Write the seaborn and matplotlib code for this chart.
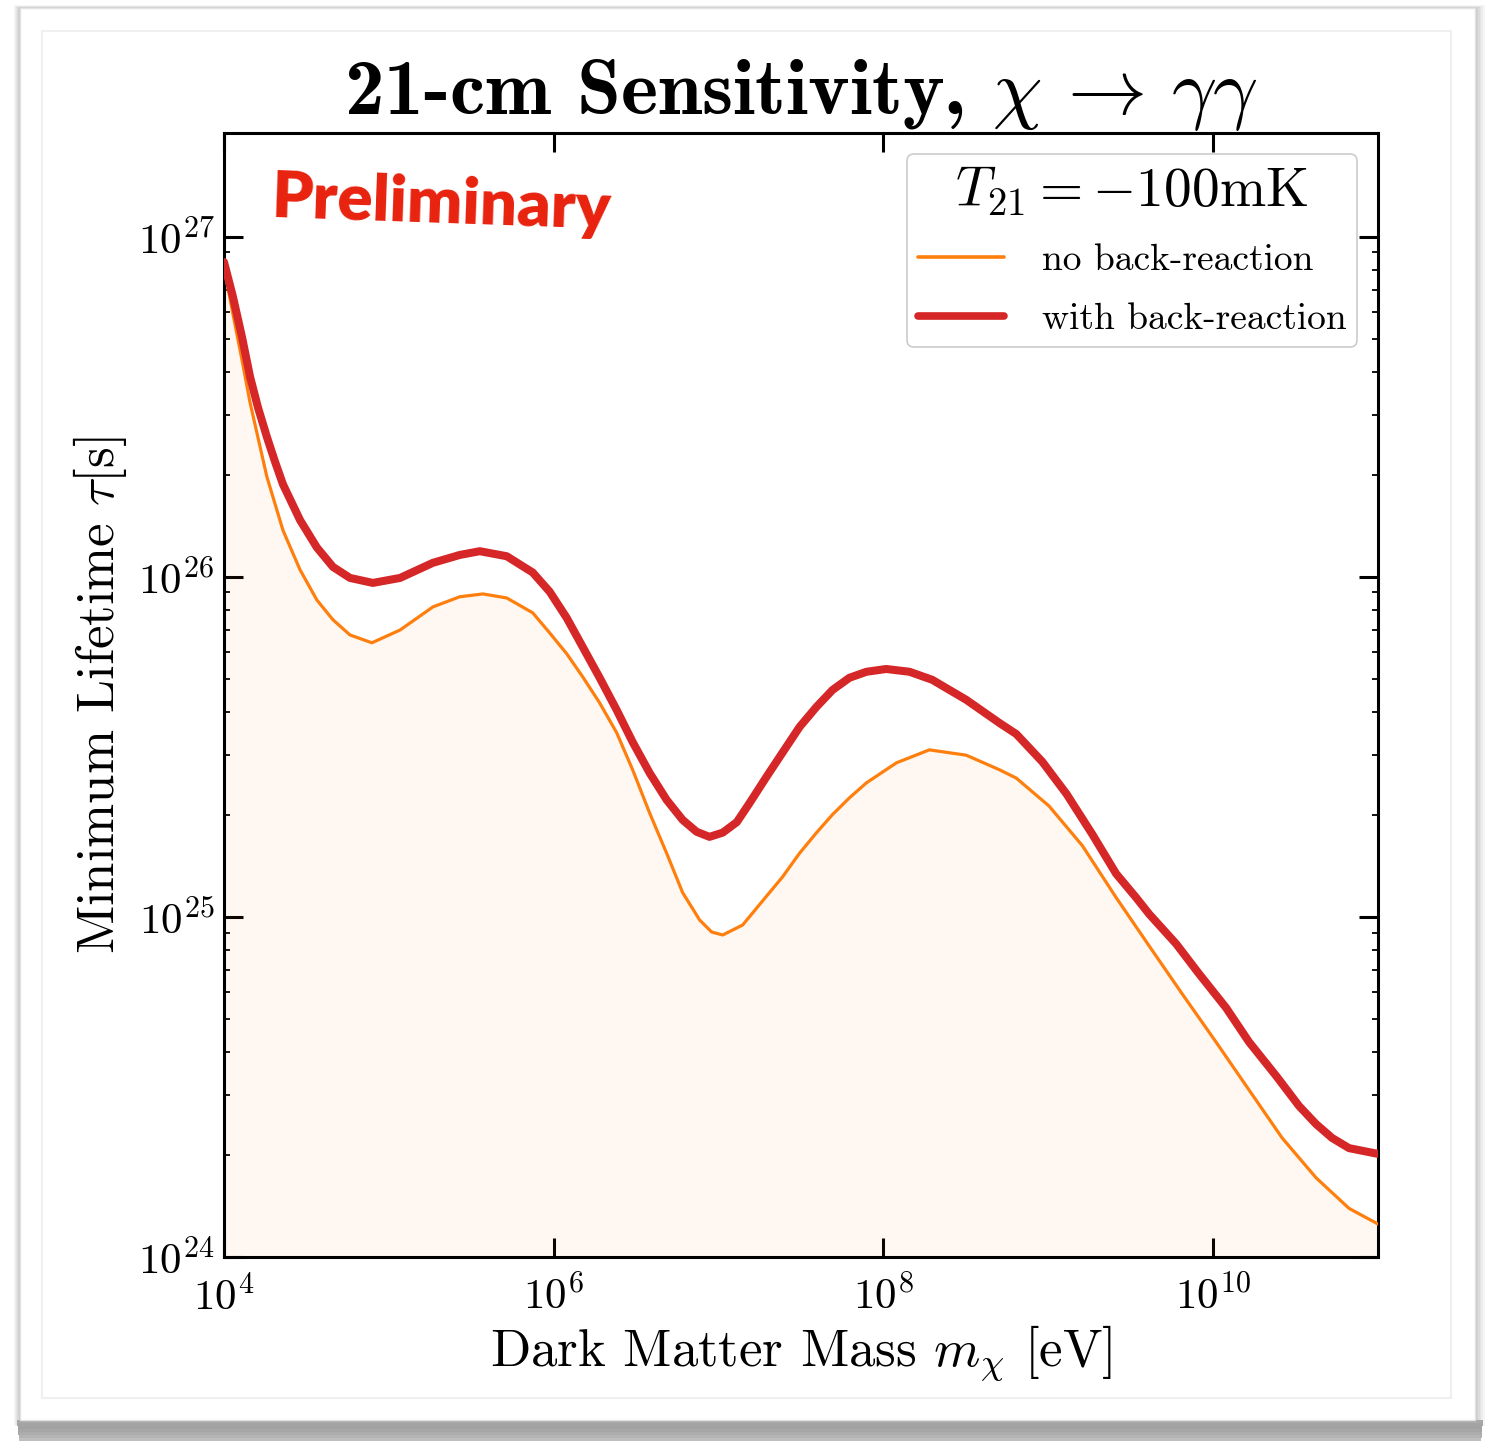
import numpy as np
import pandas as pd
import matplotlib
matplotlib.use("Agg")
import matplotlib.pyplot as plt
import seaborn as sns
from matplotlib.patches import Rectangle
from matplotlib.ticker import FixedLocator, NullLocator, LogLocator, LogFormatterMathtext

# ---------------- data ----------------
mass_with = [1.00e4, 1.13e4, 1.285e4, 1.44e4, 1.61e4, 1.82e4, 2.04e4, 2.28e4, 2.58e4, 2.89e4,
             3.66e4, 4.58e4, 5.81e4, 8.00e4, 1.17e5, 1.85e5, 2.69e5, 3.56e5, 5.19e5, 7.46e5,
             9.46e5, 1.20e6, 1.50e6, 1.90e6, 2.41e6, 3.01e6, 3.82e6, 4.84e6, 6.05e6, 7.36e6,
             8.81e6, 1.06e7, 1.29e7, 1.54e7, 1.95e7, 2.44e7, 3.10e7, 3.93e7, 4.91e7, 6.22e7,
             7.89e7, 1.04e8, 1.44e8, 1.98e8, 3.18e8, 5.05e8, 6.40e8, 9.20e8, 1.29e9, 1.85e9,
             2.58e9, 3.41e9, 4.09e9, 5.97e9, 8.22e9, 1.20e10, 1.65e10, 2.41e10, 3.32e10, 4.21e10,
             5.26e10, 6.67e10, 1.00e11]
tau_with = [8.43e26, 6.70e26, 5.08e26, 3.87e26, 3.14e26, 2.58e26, 2.18e26, 1.87e26, 1.65e26, 1.47e26,
            1.22e26, 1.07e26, 9.93e25, 9.60e25, 9.93e25, 1.10e26, 1.16e26, 1.19e26, 1.15e26, 1.03e26,
            9.04e25, 7.57e25, 6.22e25, 5.05e25, 4.06e25, 3.27e25, 2.65e25, 2.21e25, 1.93e25, 1.78e25,
            1.72e25, 1.77e25, 1.90e25, 2.16e25, 2.58e25, 3.04e25, 3.62e25, 4.15e25, 4.65e25, 5.05e25,
            5.26e25, 5.36e25, 5.26e25, 4.98e25, 4.35e25, 3.72e25, 3.45e25, 2.86e25, 2.30e25, 1.75e25,
            1.34e25, 1.14e25, 1.02e25, 8.33e24, 6.80e24, 5.40e24, 4.29e24, 3.41e24, 2.78e24, 2.46e24,
            2.24e24, 2.09e24, 2.01e24]

mass_no = [1.00e4, 1.13e4, 1.285e4, 1.44e4, 1.82e4, 2.28e4, 2.89e4, 3.66e4, 4.58e4, 5.81e4,
           7.89e4, 1.17e5, 1.85e5, 2.69e5, 3.72e5, 5.19e5, 7.46e5, 9.46e5, 1.20e6, 1.50e6,
           1.90e6, 2.41e6, 3.01e6, 3.82e6, 4.84e6, 6.05e6, 7.67e6, 9.08e6, 1.06e7, 1.40e7,
           1.95e7, 2.44e7, 3.10e7, 3.93e7, 4.91e7, 6.22e7, 7.89e7, 1.20e8, 1.90e8, 3.18e8,
           5.05e8, 6.40e8, 1.01e9, 1.61e9, 2.58e9, 4.09e9, 6.49e9, 1.04e10, 1.65e10, 2.62e10,
           4.21e10, 6.67e10, 1.00e11]
tau_no = [8.16e26, 5.97e26, 4.35e26, 3.25e26, 1.97e26, 1.37e26, 1.05e26, 8.55e25, 7.48e25, 6.75e25,
          6.40e25, 6.98e25, 8.16e25, 8.74e25, 8.91e25, 8.67e25, 7.84e25, 6.84e25, 5.94e25, 5.08e25,
          4.26e25, 3.48e25, 2.71e25, 2.02e25, 1.54e25, 1.18e25, 9.80e24, 9.03e24, 8.85e24, 9.47e24,
          1.15e25, 1.31e25, 1.54e25, 1.77e25, 2.00e25, 2.24e25, 2.48e25, 2.84e25, 3.10e25, 2.99e25,
          2.71e25, 2.56e25, 2.12e25, 1.62e25, 1.14e25, 8.22e24, 5.94e24, 4.29e24, 3.10e24, 2.24e24,
          1.71e24, 1.39e24, 1.25e24]

series_labels = ["no back-reaction", "with back-reaction"]
x_ticks = [1e4, 1e6, 1e8, 1e10]
title_text = "21-cm Sensitivity, $\\chi \\, \\rightarrow \\, \\gamma\\gamma$"
legend_title = "$T_{21} = -100\\mathrm{mK}$"
xlabel_text = "Dark Matter Mass $m_\\chi$ [eV]"
ylabel_text = "Minimum Lifetime $\\tau$[s]"
stamp_text = "Preliminary"

# ---------------- style ----------------
sns.set_theme(style="ticks")
plt.rcParams["font.family"] = ["cmr10", "DejaVu Serif"]
plt.rcParams["mathtext.fontset"] = "cm"
plt.rcParams["axes.unicode_minus"] = False
plt.rcParams["axes.formatter.use_mathtext"] = True
for k in ["text.color", "axes.labelcolor", "xtick.color", "ytick.color", "axes.edgecolor"]:
    plt.rcParams[k] = "black"

W, H = 1489, 1441
fig = plt.figure(figsize=(W / 100, H / 100), dpi=100)
fig.patch.set_facecolor("white")


def px_rect(x0, y0, x1, y1, **kw):
    r = Rectangle((x0 / W, 1 - y1 / H), (x1 - x0) / W, (y1 - y0) / H,
                  transform=fig.transFigure, **kw)
    fig.add_artist(r)
    return r


# slide drop shadow: soft on the sides, heavy along the bottom
for i in range(6):
    d = 6 - i
    px_rect(20 - d, 8 - d * 0.5, 1475 + d * 1.6, 1420 + d,
            facecolor="black", edgecolor="none", alpha=0.035, zorder=-40 + i)
bottom_cols = ["#a9a9a9", "#a4a4a4", "#a2a2a2", "#a6a6a6", "#acacac", "#b4b4b4", "#bebebe"]
for i, c in enumerate(bottom_cols):
    px_rect(17 + i * 0.3, 1420 + i * 3, 1483 - i * 0.3, 1423 + i * 3,
            facecolor=c, edgecolor="none", zorder=-30)
# slide
px_rect(20, 8, 1475, 1420, facecolor="white", edgecolor="#e2e2e2", lw=1.0, zorder=-20)
# inner frame
px_rect(42, 31, 1451, 1398, facecolor="none", edgecolor="#efefef", lw=1.5, zorder=-19)

ax = fig.add_axes([224 / W, 1 - 1257 / H, (1378 - 224) / W, (1257 - 133) / H])
ax.set_facecolor("white")
ax.set_xscale("log")
ax.set_yscale("log")

df_no = pd.DataFrame({"mass": mass_no, "tau": tau_no})
df_with = pd.DataFrame({"mass": mass_with, "tau": tau_with})

ax.fill_between(df_no["mass"], df_no["tau"], 1e24, color="#ff7f0e", alpha=0.05, lw=0, zorder=1)
sns.lineplot(data=df_no, x="mass", y="tau", ax=ax, color="#ff7f0e", lw=2.3,
             label=series_labels[0], zorder=3, sort=True)
sns.lineplot(data=df_with, x="mass", y="tau", ax=ax, color="#d62728", lw=5.8,
             label=series_labels[1], zorder=4, sort=True)
for ln in ax.get_lines():
    ln.set_solid_joinstyle("round")
    ln.set_solid_capstyle("round")

ax.set_xlim(1e4, 1e11)
ax.set_ylim(1e24, 2.02e27)
ax.xaxis.set_major_locator(FixedLocator(x_ticks))
ax.xaxis.set_minor_locator(NullLocator())
ax.yaxis.set_major_locator(LogLocator(base=10))
ax.yaxis.set_minor_locator(LogLocator(base=10, subs=np.arange(2, 10)))
ax.xaxis.set_major_formatter(LogFormatterMathtext())
ax.yaxis.set_major_formatter(LogFormatterMathtext())

ax.tick_params(which="both", direction="in", top=True, right=True, labelsize=31)
ax.tick_params(axis="x", which="major", pad=13)
ax.tick_params(axis="y", which="major", pad=7)
ax.tick_params(which="major", length=14, width=2.2)
ax.tick_params(which="minor", length=4.5, width=1.3)
for s in ax.spines.values():
    s.set_linewidth(2.2)
    s.set_color("black")

ax.set_xlabel(xlabel_text, fontsize=38, labelpad=4)
ax.set_ylabel(ylabel_text, fontsize=38, labelpad=6)
ax.set_title(title_text, fontsize=57, fontfamily=["cmb10", "DejaVu Serif"], pad=8)

leg = ax.legend(title=legend_title, loc="upper right", fontsize=27, title_fontsize=40,
                frameon=True, fancybox=True, framealpha=1.0, edgecolor="#cccccc",
                handlelength=2.3, borderaxespad=0.55, labelspacing=0.68, handletextpad=1.0,
                borderpad=0.3)
leg.get_frame().set_linewidth(1.2)
leg.get_lines()[0].set_linewidth(2.6)
leg.get_lines()[1].set_linewidth(5.5)

ax.text(0.04, 0.968, stamp_text, transform=ax.transAxes, fontsize=47, color="#e8220e",
        fontfamily=["Lato", "DejaVu Sans"], fontweight="heavy", ha="left", va="top",
        rotation=-2)

fig.savefig("out.png", dpi=100, facecolor="white")
